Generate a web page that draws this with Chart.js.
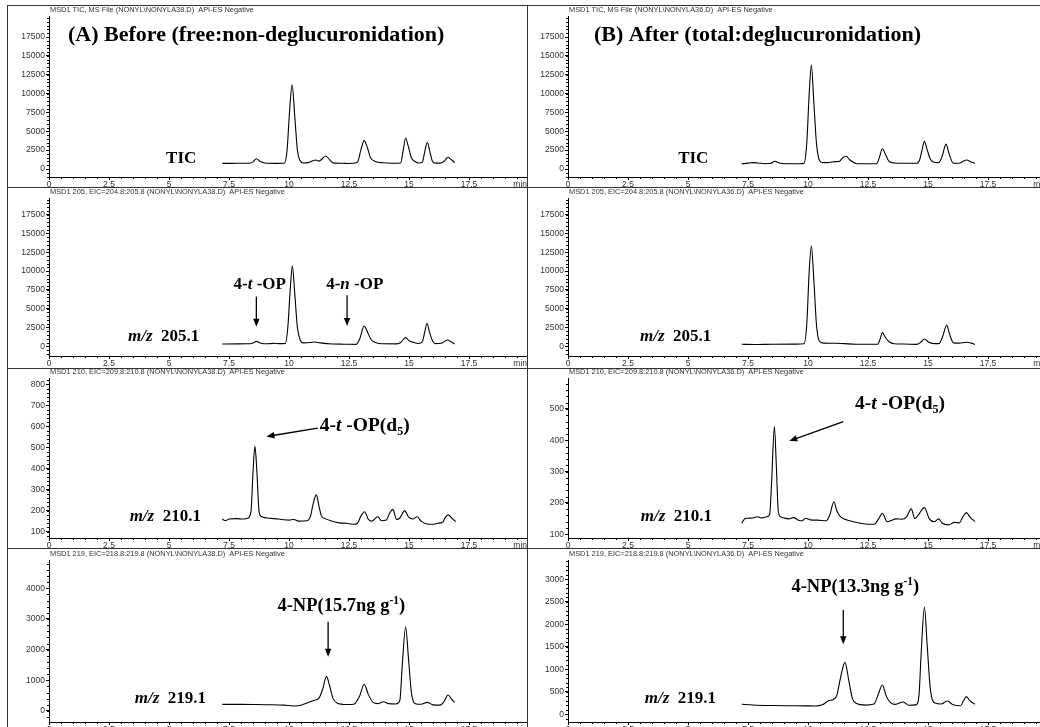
<!DOCTYPE html>
<html>
<head>
<meta charset="utf-8">
<script src="https://cdn.jsdelivr.net/npm/chart.js@4.4.0/dist/chart.umd.min.js"></script>
<style>
  body { margin: 0; width: 1040px; height: 727px; overflow: hidden; background: #fff; position: relative; }
  canvas { position: absolute; }
  .rule { position: absolute; background: #333; }
</style>
</head>
<body>
<div class="rule" style="left:7px;top:5px;width:1033px;height:1px"></div>
<div class="rule" style="left:7px;top:5px;width:1px;height:722px"></div>
<div class="rule" style="left:527px;top:5px;width:1px;height:722px"></div>
<div class="rule" style="left:7px;top:187px;width:1033px;height:1px"></div>
<div class="rule" style="left:7px;top:368px;width:1033px;height:1px"></div>
<div class="rule" style="left:7px;top:548px;width:1033px;height:1px"></div>

<script>
// retention time axis (min)
const xTicks = [0, 2.5, 5, 7.5, 10, 12.5, 15, 17.5];

// y tick labels per panel
const yTicksTic = [0, 2500, 5000, 7500, 10000, 12500, 15000, 17500];
const yTicksA210 = [100, 200, 300, 400, 500, 600, 700, 800];
const yTicksB210 = [100, 200, 300, 400, 500];
const yTicksA219 = [0, 1000, 2000, 3000, 4000];
const yTicksB219 = [0, 500, 1000, 1500, 2000, 2500, 3000];

// traces: [time (min), abundance]
const ticA = [[7.22,750],[7.6,750],[8.0,760],[8.35,770],[8.5,950],[8.64,1370],[8.8,1000],[9.05,760],[9.5,750],[9.8,770],
  [9.92,2500],[10.02,7500],[10.13,11150],[10.24,7000],[10.35,2500],[10.45,1150],[10.6,800],[10.8,850],[11.0,1100],[11.1,1200],
  [11.25,1050],[11.4,1400],[11.53,1730],[11.7,1200],[11.85,780],[12.2,760],[12.5,730],[12.85,900],[13.0,2600],[13.13,3760],
  [13.25,3000],[13.4,1500],[13.6,1000],[13.9,820],[14.3,760],[14.65,800],[14.75,2300],[14.86,4115],[14.97,3000],[15.1,1500],
  [15.25,1000],[15.4,800],[15.55,850],[15.65,2200],[15.76,3540],[15.87,2300],[15.98,1000],[16.1,780],[16.3,780],[16.45,1000],
  [16.63,1550],[16.78,1200],[16.9,840]];

const ticB = [[7.24,670],[7.5,780],[7.7,840],[7.9,800],[8.2,700],[8.45,760],[8.63,1020],[8.8,800],[9.1,700],[9.6,700],
  [9.83,750],[9.95,3500],[10.05,10000],[10.14,13800],[10.24,9000],[10.35,3500],[10.47,1200],[10.6,850],[10.9,870],[11.13,980],
  [11.3,1000],[11.45,1500],[11.58,1700],[11.75,1200],[12.03,700],[12.5,690],[12.86,700],[12.97,1500],[13.1,2680],[13.22,2000],
  [13.38,1000],[13.6,800],[14.0,760],[14.53,760],[14.65,1200],[14.75,2500],[14.85,3660],[14.96,2600],[15.1,1300],[15.25,900],
  [15.45,850],[15.6,1800],[15.75,3300],[15.88,2000],[16.06,760],[16.3,760],[16.45,1000],[16.61,1200],[16.78,950],[16.96,760]];

const eicA205 = [[7.22,310],[7.8,320],[8.3,330],[8.5,450],[8.64,660],[8.8,450],[9.05,330],[9.3,380],[9.4,400],[9.6,350],
  [9.85,380],[9.95,2500],[10.05,7500],[10.14,10660],[10.24,7000],[10.35,2500],[10.47,800],[10.6,450],[10.9,500],[11.07,575],
  [11.3,450],[11.8,300],[12.3,280],[12.8,250],[12.95,1000],[13.13,2700],[13.27,1900],[13.42,900],[13.6,500],[13.9,330],
  [14.5,320],[14.65,500],[14.86,1150],[15.0,750],[15.2,500],[15.4,380],[15.55,600],[15.65,1800],[15.75,3070],[15.86,1800],
  [16.0,600],[16.1,350],[16.35,400],[16.6,840],[16.75,600],[16.9,290]];

const eicB205 = [[7.24,265],[7.8,230],[8.5,280],[9.5,290],[9.83,330],[9.95,3000],[10.05,10000],[10.14,13340],[10.24,9000],[10.35,3000],
  [10.47,700],[10.65,420],[11.1,400],[11.5,350],[12.0,280],[12.9,280],[13.0,900],[13.1,1815],[13.22,1200],[13.38,600],
  [13.6,330],[14.0,300],[14.53,260],[14.68,500],[14.85,975],[15.0,600],[15.2,380],[15.45,350],[15.6,1200],[15.78,2790],
  [15.9,1600],[16.06,450],[16.3,420],[16.6,530],[16.8,420],[16.96,250]];

const eicA210 = [[7.22,160],[7.35,152],[7.5,160],[7.8,162],[8.1,160],[8.3,165],[8.42,200],[8.5,380],[8.58,505],[8.66,390],
  [8.75,200],[8.85,172],[9.1,165],[9.4,162],[9.7,158],[10.0,155],[10.2,158],[10.4,150],[10.75,152],[10.9,175],
  [11.0,230],[11.14,275],[11.25,220],[11.35,175],[11.5,162],[11.8,150],[12.1,142],[12.4,140],[12.7,135],[12.85,140],
  [13.0,175],[13.15,195],[13.3,160],[13.45,150],[13.7,171],[13.85,152],[14.05,155],[14.2,190],[14.33,206],[14.48,158],
  [14.62,165],[14.82,200],[14.98,170],[15.15,160],[15.35,171],[15.5,150],[15.7,138],[16.0,135],[16.2,140],[16.4,145],
  [16.5,165],[16.63,180],[16.78,165],[16.95,148]];

const eicB210 = [[7.24,135],[7.35,148],[7.45,151],[7.7,152],[7.9,156],[8.05,152],[8.25,155],[8.4,162],[8.48,260],[8.6,444],
  [8.68,320],[8.76,175],[8.85,156],[9.0,152],[9.2,149],[9.4,153],[9.6,145],[9.75,143],[9.9,151],[10.1,146],
  [10.4,145],[10.75,143],[10.9,160],[11.08,204],[11.2,175],[11.35,156],[11.6,146],[11.9,140],[12.2,135],[12.5,132],
  [12.75,132],[12.95,150],[13.1,167],[13.3,140],[13.5,145],[13.65,149],[13.9,148],[14.1,155],[14.3,181],[14.45,150],
  [14.6,162],[14.85,185],[15.05,150],[15.25,140],[15.45,149],[15.6,135],[15.85,130],[16.1,138],[16.3,136],[16.45,155],
  [16.6,169],[16.75,155],[16.96,140]];

const eicA219 = [[7.22,217],[7.8,215],[8.5,212],[9.2,205],[9.8,190],[10.2,165],[10.5,190],[10.8,280],[11.05,350],[11.25,420],
  [11.4,700],[11.56,1130],[11.7,800],[11.83,420],[12.0,260],[12.4,210],[12.7,220],[12.95,500],[13.13,870],[13.3,550],
  [13.5,280],[13.7,240],[13.94,300],[14.15,240],[14.45,230],[14.62,350],[14.72,1500],[14.86,2740],[14.98,1700],[15.1,600],
  [15.3,230],[15.5,220],[15.76,280],[16.0,200],[16.3,190],[16.45,300],[16.63,520],[16.78,380],[16.9,280]];

const eicB219 = [[7.24,222],[7.7,207],[8.5,195],[9.3,190],[9.8,188],[10.3,185],[10.6,210],[10.85,300],[11.05,330],[11.2,420],
  [11.35,800],[11.54,1155],[11.7,750],[11.85,350],[12.0,245],[12.4,205],[12.75,230],[12.9,400],[13.1,652],[13.25,420],
  [13.4,280],[13.6,220],[13.97,274],[14.2,200],[14.5,210],[14.62,400],[14.72,1400],[14.85,2385],[14.97,1500],[15.1,550],
  [15.3,250],[15.55,230],[15.8,296],[16.05,210],[16.35,190],[16.48,300],[16.6,392],[16.75,300],[16.96,222]];

const headersA = [
  'MSD1 TIC, MS File (NONYL\\NONYLA38.D)  API-ES Negative',
  'MSD1 205, EIC=204.8:205.8 (NONYL\\NONYLA38.D)  API-ES Negative',
  'MSD1 210, EIC=209.8:210.8 (NONYL\\NONYLA38.D)  API-ES Negative',
  'MSD1 219, EIC=218.8:219.8 (NONYL\\NONYLA38.D)  API-ES Negative'
];
const headersB = headersA.map(h => h.replace('NONYLA38', 'NONYLA36'));

// layout of the grid (page pixels)
const cols = [{ left: 8, axisW: 41 }, { left: 528, axisW: 40 }];
const rows = [
  { top: 6, h: 181, pad: 10, xh: 10 },
  { top: 188, h: 180, pad: 10, xh: 12 },
  { top: 369, h: 179, pad: 9, xh: 10 },
  { top: 549, h: 190, pad: 11, xh: 17 }
];
const CANVAS_W = 519;
const PX_PER_MIN = 24;

const serifBold = (size, italic) => `${italic ? 'italic ' : ''}bold ${size}px "Liberation Serif", "Times New Roman", serif`;
const smallFont = '"Liberation Sans", Arial, sans-serif';

const mz = (num) => [['m/z', 'bi'], ['  ' + num, 'b']];
const tOPd5 = [['4-', 'b'], ['t', 'bi'], [' -OP(d', 'b'], ['5', 'sub'], [')', 'b']];

const panels = [
  { col: 0, row: 0, trace: ticA, yMin: -1060, yMax: 20290, yTicks: yTicksTic, yMinor: 500, header: headersA[0],
    notes: [
      { parts: [['(A) Before (free:non-deglucuronidation)', 'b']], t: 0.79, v: 17790, size: 22, align: 'left' },
      { parts: [['TIC', 'b']], t: 5.51, v: 1420, size: 17, align: 'center' }
    ], arrows: [] },
  { col: 1, row: 0, trace: ticB, yMin: -1060, yMax: 20290, yTicks: yTicksTic, yMinor: 500, header: headersB[0],
    notes: [
      { parts: [['(B) After (total:deglucuronidation)', 'b']], t: 1.08, v: 17790, size: 22, align: 'left' },
      { parts: [['TIC', 'b']], t: 5.22, v: 1430, size: 17, align: 'center' }
    ], arrows: [] },
  { col: 0, row: 1, trace: eicA205, yMin: -1290, yMax: 19720, yTicks: yTicksTic, yMinor: 500, header: headersA[1],
    notes: [
      { parts: mz('205.1'), t: 3.29, v: 1280, size: 17, align: 'left' },
      { parts: [['4-', 'b'], ['t', 'bi'], [' -OP', 'b']], t: 8.78, v: 8140, size: 17, align: 'center' },
      { parts: [['4-', 'b'], ['n', 'bi'], [' -OP', 'b']], t: 12.74, v: 8140, size: 17, align: 'center' }
    ],
    arrows: [{ t0: 8.64, v0: 6600, t1: 8.64, v1: 2600 }, { t0: 12.42, v0: 6800, t1: 12.42, v1: 2700 }] },
  { col: 1, row: 1, trace: eicB205, yMin: -1290, yMax: 19720, yTicks: yTicksTic, yMinor: 500, header: headersB[1],
    notes: [{ parts: mz('205.1'), t: 3.0, v: 1285, size: 17, align: 'left' }], arrows: [] },
  { col: 0, row: 2, trace: eicA210, yMin: 70, yMax: 830, yTicks: yTicksA210, yMinor: 20, header: headersA[2],
    notes: [
      { parts: mz('210.1'), t: 3.36, v: 171, size: 17, align: 'left' },
      { parts: tOPd5, t: 11.28, v: 603, size: 19.5, align: 'left' }
    ],
    arrows: [{ t0: 11.2, v0: 592, t1: 9.06, v1: 552 }] },
  { col: 1, row: 2, trace: eicB210, yMin: 88, yMax: 599, yTicks: yTicksB210, yMinor: 20, header: headersB[2],
    notes: [
      { parts: mz('210.1'), t: 3.03, v: 156, size: 17, align: 'left' },
      { parts: tOPd5, t: 11.96, v: 515, size: 19.5, align: 'left' }
    ],
    arrows: [{ t0: 11.47, v0: 460, t1: 9.22, v1: 398 }] },
  { col: 0, row: 3, trace: eicA219, yMin: -359, yMax: 4923, yTicks: yTicksA219, yMinor: 200, header: headersA[3],
    notes: [
      { parts: mz('219.1'), t: 3.57, v: 413, size: 17, align: 'left' },
      { parts: [['4-NP(15.7ng g', 'b'], ['-1', 'sup'], [')', 'b']], t: 12.18, v: 3400, size: 18.5, align: 'center' }
    ],
    arrows: [{ t0: 11.63, v0: 2913, t1: 11.63, v1: 1772 }] },
  { col: 1, row: 3, trace: eicB219, yMin: -171, yMax: 3429, yTicks: yTicksB219, yMinor: 100, header: headersB[3],
    notes: [
      { parts: mz('219.1'), t: 3.2, v: 340, size: 17, align: 'left' },
      { parts: [['4-NP(13.3ng g', 'b'], ['-1', 'sup'], [')', 'b']], t: 11.97, v: 2815, size: 18.5, align: 'center' }
    ],
    arrows: [{ t0: 11.47, v0: 2318, t1: 11.47, v1: 1555 }] }
];

const drawParts = (ctx, parts, x, y, size, align) => {
  const fontOf = st => (st === 'sub' || st === 'sup') ? serifBold(size * 0.62, false) : serifBold(size, st === 'bi');
  let w = 0;
  parts.forEach(([s, st]) => { ctx.font = fontOf(st); w += ctx.measureText(s).width; });
  let cx = align === 'center' ? x - w / 2 : x;
  ctx.textAlign = 'left';
  ctx.textBaseline = 'middle';
  parts.forEach(([s, st]) => {
    ctx.font = fontOf(st);
    const dy = st === 'sub' ? size * 0.3 : st === 'sup' ? -size * 0.3 : 0;
    ctx.fillText(s, cx, y + dy);
    cx += ctx.measureText(s).width;
  });
};

const drawArrow = (ctx, x0, y0, x1, y1) => {
  const ang = Math.atan2(y1 - y0, x1 - x0);
  const len = 8, half = 3.2;
  ctx.beginPath();
  ctx.moveTo(x0, y0);
  ctx.lineTo(x1 - Math.cos(ang) * len * 0.8, y1 - Math.sin(ang) * len * 0.8);
  ctx.lineWidth = 1.3;
  ctx.stroke();
  ctx.beginPath();
  ctx.moveTo(x1, y1);
  ctx.lineTo(x1 - Math.cos(ang) * len - Math.sin(ang) * half, y1 - Math.sin(ang) * len + Math.cos(ang) * half);
  ctx.lineTo(x1 - Math.cos(ang) * len + Math.sin(ang) * half, y1 - Math.sin(ang) * len - Math.cos(ang) * half);
  ctx.closePath();
  ctx.fill();
};

// minor ticks, header line, "min" label, arrows and peak labels
const annotate = {
  id: 'annotate',
  afterDatasetsDraw(chart, args, opts) {
    const ctx = chart.ctx, xs = chart.scales.x, ys = chart.scales.y, area = chart.chartArea;
    ctx.save();
    ctx.strokeStyle = '#000';
    ctx.fillStyle = '#000';
    ctx.lineWidth = 1;
    ctx.beginPath();
    for (let t = 0; t <= xs.max; t += 0.5) {
      const px = Math.round(xs.getPixelForValue(t)) + 0.5;
      ctx.moveTo(px, area.bottom);
      ctx.lineTo(px, area.bottom + 2);
    }
    for (let v = Math.ceil(ys.min / opts.yMinor) * opts.yMinor; v <= ys.max; v += opts.yMinor) {
      const py = Math.round(ys.getPixelForValue(v)) + 0.5;
      ctx.moveTo(area.left - 2, py);
      ctx.lineTo(area.left, py);
    }
    ctx.stroke();

    ctx.fillStyle = '#333';
    ctx.font = `7.4px ${smallFont}`;
    ctx.textAlign = 'left';
    ctx.textBaseline = 'middle';
    ctx.fillText(opts.header, area.left + 1, area.top - 6);
    ctx.font = `8.5px ${smallFont}`;
    ctx.textAlign = 'right';
    ctx.textBaseline = 'top';
    ctx.fillText('min', chart.width, area.bottom + 3);

    ctx.fillStyle = '#000';
    ctx.strokeStyle = '#000';
    opts.arrows.forEach(a => drawArrow(ctx,
      xs.getPixelForValue(a.t0), ys.getPixelForValue(a.v0),
      xs.getPixelForValue(a.t1), ys.getPixelForValue(a.v1)));
    opts.notes.forEach(n => drawParts(ctx, n.parts, xs.getPixelForValue(n.t), ys.getPixelForValue(n.v), n.size, n.align));
    ctx.restore();
  }
};

panels.forEach(p => {
  const col = cols[p.col], row = rows[p.row];
  const canvas = document.createElement('canvas');
  canvas.width = CANVAS_W;
  canvas.height = row.h;
  canvas.style.left = col.left + 'px';
  canvas.style.top = row.top + 'px';
  document.body.appendChild(canvas);
  const tickFont = { family: smallFont, size: 8.5 };

  new Chart(canvas, {
    type: 'line',
    data: {
      datasets: [{
        data: p.trace.map(([t, v]) => ({ x: t, y: v })),
        borderColor: '#000',
        borderWidth: 1.1,
        pointRadius: 0,
        fill: false,
        cubicInterpolationMode: 'monotone'
      }]
    },
    options: {
      responsive: false,
      animation: false,
      layout: { padding: { top: row.pad, left: 0, right: 0, bottom: 0 } },
      plugins: {
        legend: { display: false },
        tooltip: { enabled: false },
        annotate: { header: p.header, notes: p.notes, arrows: p.arrows, yMinor: p.yMinor }
      },
      scales: {
        x: {
          type: 'linear',
          min: 0,
          max: (CANVAS_W - col.axisW) / PX_PER_MIN,
          afterBuildTicks: s => { s.ticks = xTicks.map(v => ({ value: v })); },
          afterFit: s => { s.height = row.xh; },
          ticks: { font: tickFont, color: '#333', padding: 0, maxRotation: 0, autoSkip: false, callback: v => String(v) },
          grid: { drawOnChartArea: false, drawTicks: true, tickLength: 3, color: '#000' },
          border: { color: '#000', width: 1 }
        },
        y: {
          min: p.yMin,
          max: p.yMax,
          afterBuildTicks: s => { s.ticks = p.yTicks.map(v => ({ value: v })); },
          afterFit: s => { s.width = col.axisW; },
          ticks: { font: tickFont, color: '#333', padding: 1, autoSkip: false, callback: v => String(v) },
          grid: { drawOnChartArea: false, drawTicks: true, tickLength: 3, color: '#000' },
          border: { color: '#000', width: 1 }
        }
      }
    },
    plugins: [annotate]
  });
});
</script>
</body>
</html>
